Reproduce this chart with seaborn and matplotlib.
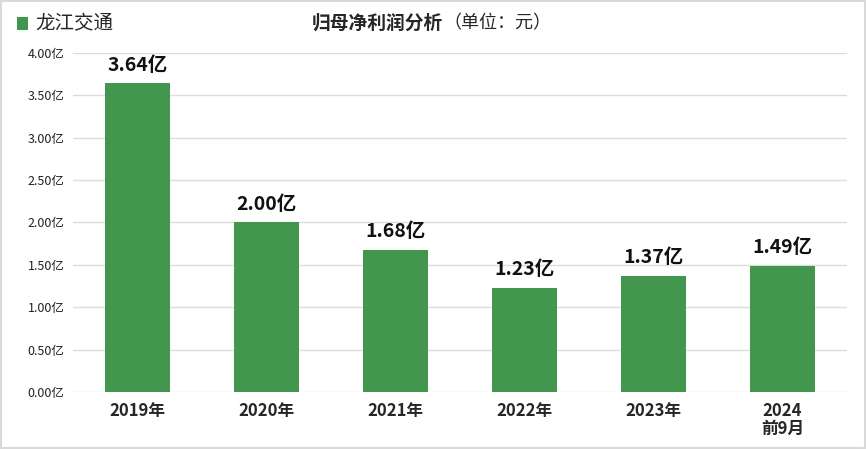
import matplotlib
matplotlib.use('Agg')
import matplotlib.pyplot as plt
import seaborn as sns
import pandas as pd
from matplotlib.patches import Rectangle

# data
years = ['2019年', '2020年', '2021年', '2022年', '2023年', '2024\n前9月']
profit = [3.64, 2.00, 1.68, 1.23, 1.37, 1.49]
yticks = [0, 0.5, 1.0, 1.5, 2.0, 2.5, 3.0, 3.5, 4.0]
company = '龙江交通'
green = '#43964e'

sns.set_style('white')
plt.rcParams['font.family'] = ['Noto Sans CJK SC', 'DejaVu Sans']

df = pd.DataFrame({'year': years, 'profit': profit})

fig = plt.figure(figsize=(8.66, 4.49), dpi=100)
ax = fig.add_axes([0.0843, 0.127, 0.8937, 0.755])

sns.barplot(data=df, x='year', y='profit', color=green, width=0.51,
            saturation=1, linewidth=0, ax=ax, zorder=3)

ax.set_ylim(0, 4.0)
ax.set_yticks(yticks)
ax.set_yticklabels([f'{v:.2f}亿' for v in yticks], fontsize=9, color='#222222')
ax.grid(axis='y', color='#dddddd', linewidth=1, zorder=0)
ax.set_xlabel('')
ax.set_ylabel('')
for s in ax.spines.values():
    s.set_visible(False)
ax.tick_params(axis='both', length=0)
ax.tick_params(axis='y', pad=6)
ax.tick_params(axis='x', pad=7)
for lab in ax.get_xticklabels():
    lab.set_fontsize(12)
    lab.set_fontweight('bold')
    lab.set_linespacing(1.0)
ax.set_xlim(-0.5, len(years) - 0.5)

for i, v in enumerate(profit):
    ax.text(i, v + 0.1, f'{v:.2f}亿', ha='center', va='bottom',
            fontsize=14, fontweight='bold', color='#111111')

# title and legend marker
fig.text(0.36, 0.948, '归母净利润分析', fontsize=13.5, fontweight='bold',
         ha='left', va='center')
fig.text(0.512, 0.948, '（单位：元）', fontsize=13, ha='left', va='center')
fig.patches.append(Rectangle((0.0196, 0.933), 0.0127, 0.029, transform=fig.transFigure,
                             facecolor=green, edgecolor='none'))
fig.text(0.041, 0.948, company, fontsize=14, ha='left', va='center')

# light border
fig.patches.append(Rectangle((0.0015, 0.002), 0.997, 0.996, transform=fig.transFigure,
                             facecolor='none', edgecolor='#d9d9d9', linewidth=1.5))

fig.savefig('out.png', dpi=100)
